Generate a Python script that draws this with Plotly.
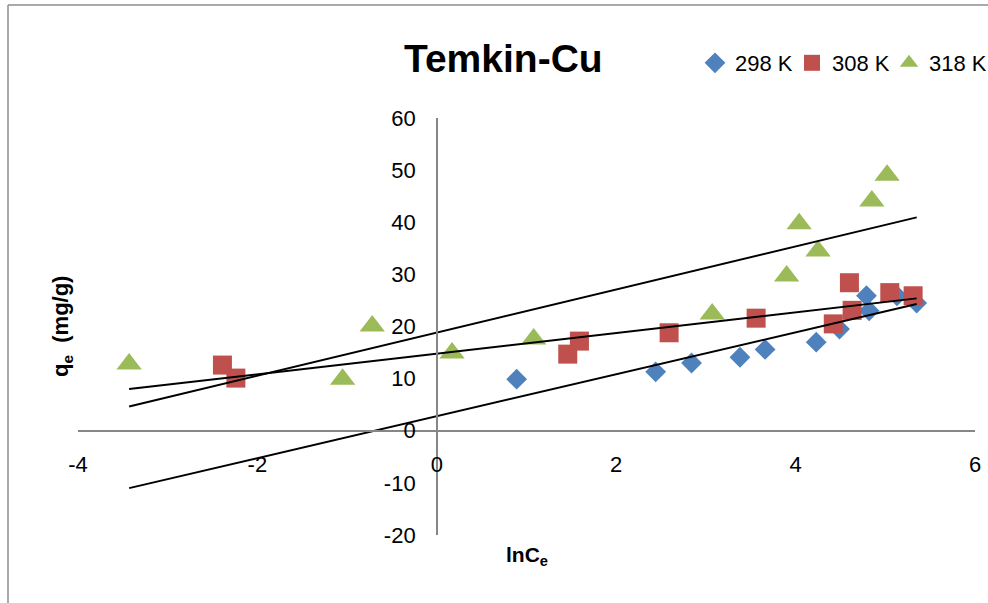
import numpy as np
import plotly.graph_objects as go

# ---- data ----
series_names = ["298 K", "308 K", "318 K"]

x_298 = [0.89, 2.44, 2.84, 3.38, 3.66, 4.23, 4.49, 4.79, 4.82, 5.13, 5.35]
y_298 = [9.9, 11.3, 13.0, 14.1, 15.6, 17.0, 19.5, 25.9, 23.0, 25.9, 24.5]

x_308 = [-2.39, -2.24, 1.46, 1.59, 2.59, 3.56, 4.60, 4.63, 4.42, 5.05, 5.31]
y_308 = [12.6, 10.1, 14.7, 17.2, 18.8, 21.6, 28.4, 23.1, 20.5, 26.5, 25.9]

x_318 = [-3.43, -1.05, -0.72, 0.17, 1.08, 3.07, 3.90, 4.04, 4.25, 4.85, 5.02]
y_318 = [12.8, 9.9, 20.1, 14.9, 17.6, 22.4, 29.7, 39.7, 34.5, 44.1, 49.0]

x_ticks = [-4, -2, 0, 2, 4, 6]
y_ticks = [-20, -10, 0, 10, 20, 30, 40, 50, 60]
x_ticktext = ["-4", "-2", "0", "2", "4", "6"]
y_ticktext = ["-20", "-10", "0", "10", "20", "30", "40", "50", "60"]

colors = ["#4F81BD", "#C0504D", "#9BBB59"]
symbols = ["diamond", "square", "triangle-up"]
sizes = [16, 19, 22]

xs = [x_298, x_308, x_318]
ys = [y_298, y_308, y_318]

FONT = "Liberation Sans, Arial, sans-serif"

fig = go.Figure()
for name, xv, yv, c, s, sz in zip(series_names, xs, ys, colors, symbols, sizes):
    fig.add_trace(go.Scatter(
        x=xv, y=yv, mode="markers", name=name,
        marker=dict(color=c, symbol=s, size=sz, line=dict(width=0)),
    ))

# linear trendlines spanning the full data range
all_x = np.concatenate([np.array(v) for v in xs])
x_line = np.array([all_x.min(), all_x.max()])
for xv, yv in zip(xs, ys):
    k, b = np.polyfit(xv, yv, 1)
    fig.add_trace(go.Scatter(
        x=x_line, y=k * x_line + b, mode="lines", showlegend=False,
        line=dict(color="black", width=2), hoverinfo="skip",
    ))

L, R, T, B = 78, 13, 118, 68
W, H = 988, 603
pw, ph = W - L - R, H - T - B

def px_x(p):
    return (p - L) / pw

def px_y(p):
    return (H - B - p) / ph

axis_common = dict(
    showgrid=False, zeroline=False, showline=True, linecolor="#868686",
    linewidth=1.5, ticks="", tickfont=dict(family=FONT, size=22, color="black"),
    anchor="free",
)

fig.update_layout(
    width=W, height=H,
    margin=dict(l=L, r=R, t=T, b=B, autoexpand=False),
    paper_bgcolor="white", plot_bgcolor="white",
    xaxis=dict(range=[-4, 6], tickvals=x_ticks, ticktext=x_ticktext,
               position=0.25, ticklabelstandoff=14, **axis_common),
    yaxis=dict(range=[-20, 60], tickvals=y_ticks, ticktext=y_ticktext,
               position=0.4, ticklabelstandoff=16, **axis_common),
    legend=dict(orientation="h", x=px_x(695), xanchor="left",
                y=px_y(63), yanchor="middle",
                font=dict(family=FONT, size=22, color="black"),
                bgcolor="rgba(0,0,0,0)", itemwidth=30, tracegroupgap=0,
                entrywidth=52, entrywidthmode="pixels"),
    showlegend=True,
)

fig.add_annotation(text="<b>Temkin-Cu</b>", xref="paper", yref="paper",
                   x=px_x(503), y=px_y(58), xanchor="center", yanchor="middle",
                   showarrow=False, font=dict(family=FONT, size=39, color="black"))
fig.add_annotation(text="<b>q<sub>e</sub>  (mg/g)</b>", xref="paper", yref="paper",
                   x=px_x(62), y=px_y(327), xanchor="center", yanchor="middle",
                   textangle=-90, showarrow=False,
                   font=dict(family=FONT, size=22, color="black"))
fig.add_annotation(text="<b>lnC<sub>e</sub></b>", xref="paper", yref="paper",
                   x=px_x(527), y=px_y(556), xanchor="center", yanchor="middle",
                   showarrow=False, font=dict(family=FONT, size=21, color="black"))

# chart-area border (top and left edges visible in reference)
fig.add_shape(type="line", xref="paper", yref="paper",
              x0=px_x(8), x1=px_x(8), y0=px_y(5), y1=px_y(603),
              line=dict(color="#8c8c8c", width=1.5))
fig.add_shape(type="line", xref="paper", yref="paper",
              x0=px_x(8), x1=px_x(988), y0=px_y(5), y1=px_y(5),
              line=dict(color="#8c8c8c", width=1.5))

fig.write_html("out.html")
